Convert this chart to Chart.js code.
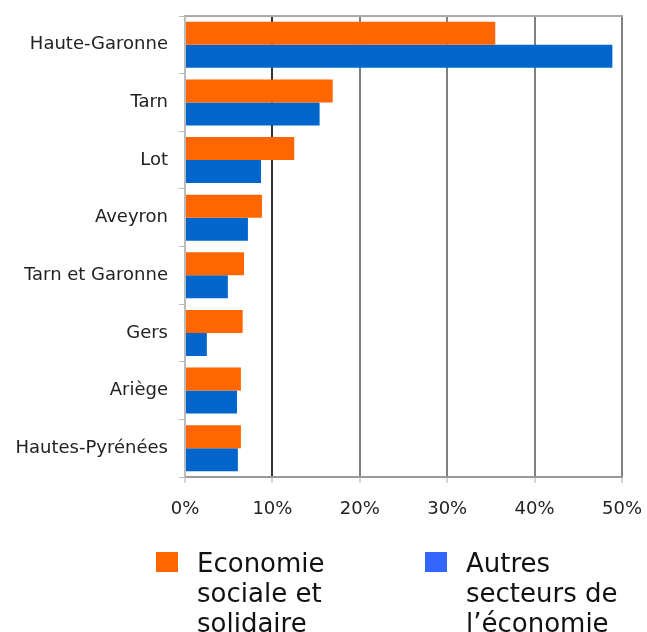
<!DOCTYPE html>
<html>
<head>
<meta charset="utf-8">
<script src="https://cdn.jsdelivr.net/npm/chart.js@4/dist/chart.umd.min.js"></script>
<style>
html,body{margin:0;padding:0;background:#fff;}
#wrap{position:relative;width:647px;height:632px;overflow:hidden;}
canvas{position:absolute;left:0;top:0;}
.leg{position:absolute;font-family:"DejaVu Sans",Verdana,sans-serif;font-size:26px;line-height:30px;color:#111;}
.box{position:absolute;width:22px;height:20px;}
</style>
</head>
<body>
<div id="wrap">
<canvas id="c" width="647" height="632"></canvas>
<div class="box" style="left:156px;top:552px;background:#FF6600;"></div>
<div class="leg" style="left:197px;top:548px;">Economie<br>sociale et<br>solidaire</div>
<div class="box" style="left:425px;top:552px;background:#3366FF;"></div>
<div class="leg" style="left:466px;top:548px;">Autres<br>secteurs de<br>l’économie</div>
</div>
<script>
const categories = ["Haute-Garonne","Tarn","Lot","Aveyron","Tarn et Garonne","Gers","Ariège","Hautes-Pyrénées"];
const seriesNames = ["Economie sociale et solidaire","Autres secteurs de l’économie"];
const essValues = [35.5, 16.9, 12.5, 8.8, 6.75, 6.6, 6.4, 6.4];
const autresValues = [48.9, 15.4, 8.7, 7.2, 4.9, 2.5, 5.95, 6.05];
const xTicks = [0, 10, 20, 30, 40, 50];

const topBorder = {
  id: 'topBorder',
  afterDraw(chart) {
    const a = chart.chartArea, ctx = chart.ctx;
    ctx.save();
    ctx.strokeStyle = '#aaaaaa';
    ctx.lineWidth = 2;
    ctx.beginPath();
    ctx.moveTo(a.left, a.top);
    ctx.lineTo(a.right + 1, a.top);
    ctx.stroke();
    ctx.restore();
  }
};

const font = {family: '"DejaVu Sans", Verdana, sans-serif', size: 18};

new Chart(document.getElementById('c'), {
  type: 'bar',
  data: {
    labels: categories,
    datasets: [
      {label: seriesNames[0], data: essValues, backgroundColor: '#FF6600', borderWidth: 0},
      {label: seriesNames[1], data: autresValues, backgroundColor: '#0066CC', borderWidth: 0}
    ]
  },
  options: {
    indexAxis: 'y',
    responsive: false,
    animation: false,
    devicePixelRatio: 1,
    layout: {padding: {left: 0, top: 16, right: 25, bottom: 105}},
    datasets: {bar: {categoryPercentage: 0.8, barPercentage: 1.0}},
    plugins: {legend: {display: false}, tooltip: {enabled: false}},
    scales: {
      x: {
        min: 0, max: 50,
        afterBuildTicks(axis) { axis.ticks = xTicks.map(v => ({value: v})); },
        afterFit(axis) { axis.height = 50; axis.paddingLeft = 0; axis.paddingRight = 0; },
        ticks: {callback: v => v + '%', color: '#222', font: font, padding: 16, maxRotation: 0},
        grid: {
          color: ctx => ctx.index === 0 ? 'rgba(0,0,0,0)' : (ctx.index === 1 ? '#333333' : '#808080'),
          lineWidth: 2,
          tickLength: 6,
          tickColor: '#aaaaaa',
          tickWidth: 1
        },
        border: {color: '#999999', width: 2}
      },
      y: {
        afterFit(axis) { axis.width = 185; axis.paddingTop = 0; axis.paddingBottom = 0; },
        ticks: {color: '#222', font: font, padding: 11},
        grid: {offset: true, drawOnChartArea: false, tickLength: 6, color: '#bbbbbb', lineWidth: 1},
        border: {color: '#bbbbbb', width: 2}
      }
    }
  },
  plugins: [topBorder]
});
</script>
</body>
</html>
